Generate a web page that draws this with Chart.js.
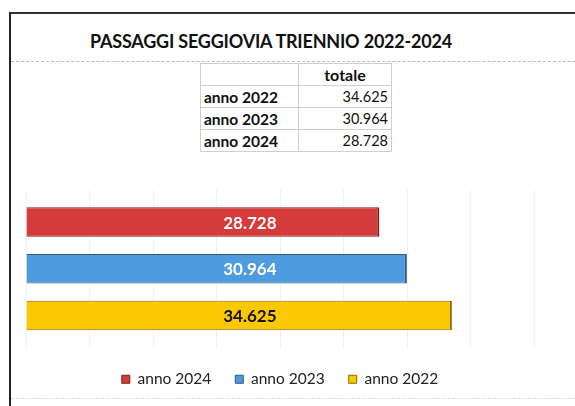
<!DOCTYPE html>
<html>
<head>
<meta charset="utf-8">
<script src="https://cdn.jsdelivr.net/npm/chart.js@4/dist/chart.umd.min.js"></script>
<style>
  html, body { margin: 0; padding: 0; background: #fff; }
  body { width: 575px; height: 406px; position: relative; overflow: hidden; font-family: Lato, "Open Sans", sans-serif; }
  #frameTop { position: absolute; left: 9px; top: 12px; width: 570px; height: 2px; background: #333; }
  #frameLeft { position: absolute; left: 9px; top: 12px; width: 2px; height: 400px; background: #222; }
  #titleLine { position: absolute; left: 11px; top: 61px; width: 570px; border-top: 1px dashed #bbb; }
  #bottomLine { position: absolute; left: 11px; top: 398px; width: 570px; border-top: 1px dashed #ddd; }
  #title { position: absolute; left: 11px; width: 520px; top: 30px; text-align: center; font-weight: bold; font-size: 18px; color: #111; letter-spacing: -0.2px; }
  #tbl { position: absolute; left: 200px; top: 63px; border-collapse: collapse; font-size: 14px; color: #111; }
  #tbl td { border: 1px solid #cfcfcf; height: 21px; padding: 0 3px; }
  #tbl td.lab { width: 91px; font-weight: bold; font-size: 15.5px; }
  #tbl td.val { width: 86px; text-align: right; font-size: 14.5px; }
  #tbl td.head { font-weight: bold; text-align: center; font-size: 16px; }
  #wrap { position: absolute; left: 0; top: 178px; width: 575px; height: 228px; }
</style>
</head>
<body>
<div id="frameTop"></div>
<div id="frameLeft"></div>
<div id="title">PASSAGGI SEGGIOVIA TRIENNIO 2022-2024</div>
<div id="titleLine"></div>
<table id="tbl"></table>
<div id="bottomLine"></div>
<div id="wrap"><canvas id="chart"></canvas></div>
<script>
// anni e valori (ordine della legenda: 2024, 2023, 2022)
const labels = ['anno 2024', 'anno 2023', 'anno 2022'];
const values = [28728, 30964, 34625];
const colors = ['#d63b3b', '#4f9be0', '#fcc800'];
const borders = ['#7a1f1f', '#2c5a85', '#8a7000'];
const textColors = ['#ffffff', '#ffffff', '#111111'];

// tabella in alto (ordine 2022, 2023, 2024)
const tableRows = ['anno 2022', 'anno 2023', 'anno 2024'];
const tableValues = [34625, 30964, 28728];

function fmt(n) {
  return String(n).replace(/\B(?=(\d{3})+(?!\d))/g, '.');
}

// costruzione tabella
const tbl = document.getElementById('tbl');
let html = '<tr><td class="lab"></td><td class="val head">totale</td></tr>';
tableRows.forEach(function(r, i) {
  html += '<tr><td class="lab">' + r + '</td><td class="val">' + fmt(tableValues[i]) + '</td></tr>';
});
tbl.innerHTML = html;

// etichette dentro le barre, tutte allineate sulla stessa verticale
const barLabels = {
  id: 'barLabels',
  afterDatasetsDraw(chart) {
    const ctx = chart.ctx;
    const x = chart.scales.x.getPixelForValue(18200);
    ctx.save();
    ctx.font = 'bold 17px Lato, "Open Sans", sans-serif';
    ctx.textAlign = 'center';
    ctx.textBaseline = 'middle';
    chart.data.datasets.forEach(function(ds, i) {
      const bar = chart.getDatasetMeta(i).data[0];
      ctx.fillStyle = textColors[i];
      ctx.fillText(fmt(ds.data[0]), x, bar.y + 1);
    });
    ctx.restore();
  }
};

const datasets = labels.map(function(l, i) {
  return {
    label: l,
    data: [values[i]],
    backgroundColor: colors[i],
    borderColor: borders[i],
    borderWidth: { top: 1, right: 2, bottom: 1, left: 0 },
    borderSkipped: false
  };
});

new Chart(document.getElementById('chart'), {
  type: 'bar',
  data: { labels: [''], datasets: datasets },
  options: {
    indexAxis: 'y',
    responsive: true,
    maintainAspectRatio: false,
    animation: false,
    categoryPercentage: 0.89,
    barPercentage: 0.63,
    layout: { padding: { left: 26, right: 41, top: 12, bottom: 9 } },
    scales: {
      x: {
        min: 0,
        max: 41300,
        ticks: { display: false, stepSize: 5000 },
        grid: { color: '#f1f1f1', drawTicks: false },
        border: { display: false }
      },
      y: { display: false }
    },
    plugins: {
      legend: {
        position: 'bottom',
        labels: {
          boxWidth: 8,
          boxHeight: 8,
          padding: 24,
          color: '#222',
          font: { family: 'Lato, "Open Sans", sans-serif', size: 15.5 }
        }
      },
      tooltip: { enabled: false }
    }
  },
  plugins: [barLabels]
});
</script>
</body>
</html>
